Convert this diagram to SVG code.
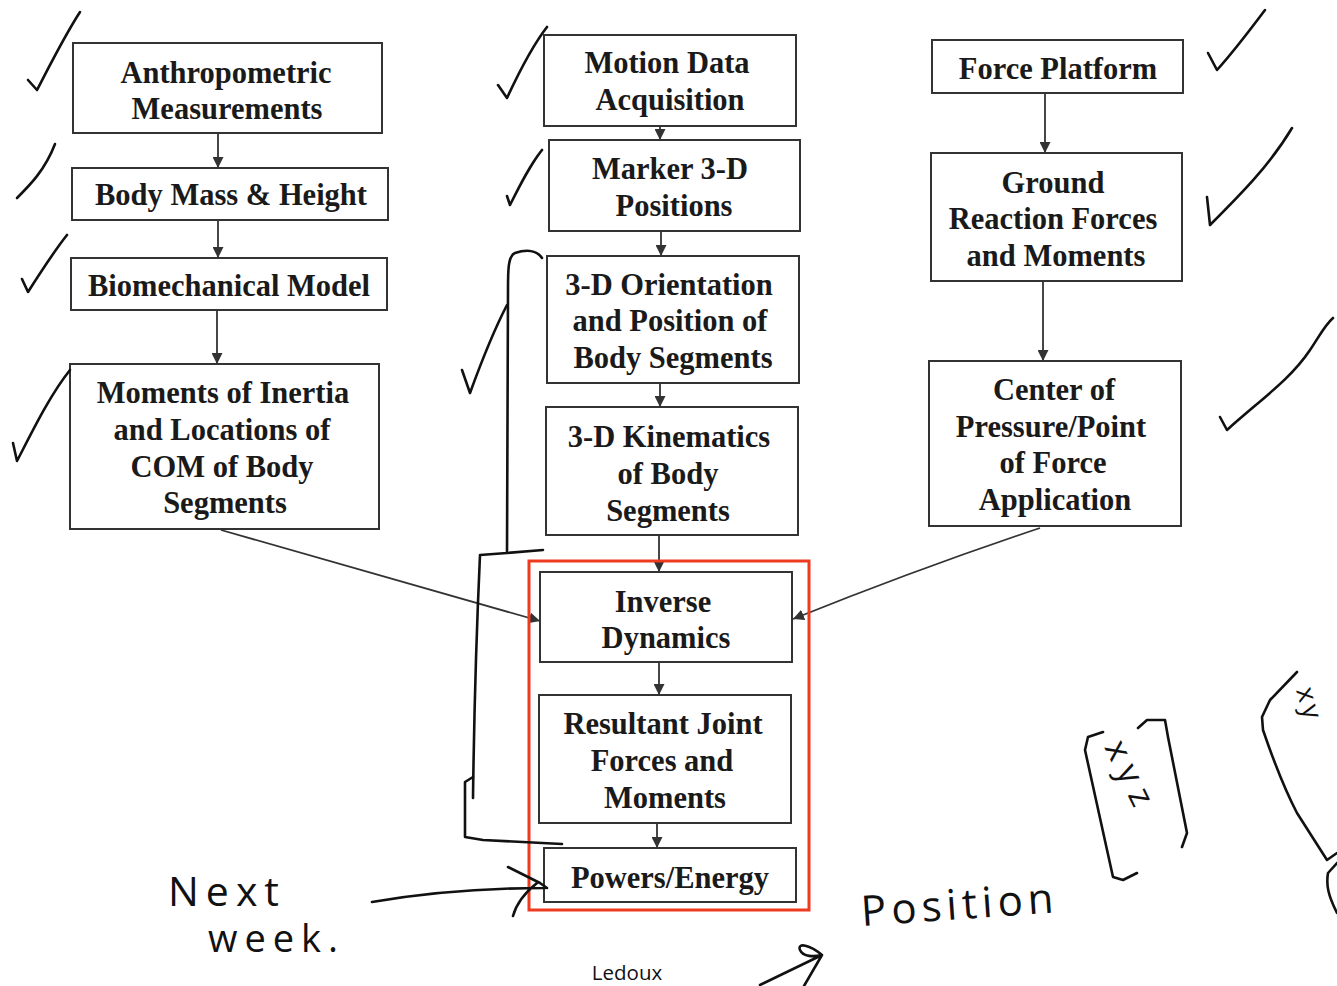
<svg xmlns="http://www.w3.org/2000/svg" width="1337" height="986" viewBox="0 0 1337 986">
<style>
.box{fill:#fff;stroke:#333;stroke-width:2}
.t{font-family:"Liberation Serif","Times New Roman",serif;font-weight:bold;font-size:30.5px;fill:#1a1a1a;text-anchor:middle}
.c{stroke:#333;stroke-width:1.8;fill:none}
.h{stroke:#111;stroke-width:2.6;fill:none;stroke-linecap:round;stroke-linejoin:round}
.hw{font-family:"Open Sans","DejaVu Sans",sans-serif;font-weight:400;fill:#111}
</style>
<defs>
<marker id="ah" viewBox="0 0 10 10" refX="10" refY="5" markerWidth="11" markerHeight="11" markerUnits="userSpaceOnUse" orient="auto">
<path d="M0,0 L10,5 L0,10 z" fill="#333"/>
</marker>
</defs>
<rect width="1337" height="986" fill="#fff"/>

<g id="connectors">
<line class="c" x1="218" y1="133" x2="218" y2="168" marker-end="url(#ah)"/>
<line class="c" x1="218" y1="220" x2="218" y2="258" marker-end="url(#ah)"/>
<line class="c" x1="217" y1="310" x2="217" y2="364" marker-end="url(#ah)"/>
<line class="c" x1="660" y1="126" x2="660" y2="140" marker-end="url(#ah)"/>
<line class="c" x1="661" y1="231" x2="661" y2="256" marker-end="url(#ah)"/>
<line class="c" x1="660" y1="383" x2="660" y2="407" marker-end="url(#ah)"/>
<line class="c" x1="659" y1="535" x2="659" y2="572" marker-end="url(#ah)"/>
<line class="c" x1="659" y1="662" x2="659" y2="695" marker-end="url(#ah)"/>
<line class="c" x1="657" y1="823" x2="657" y2="848" marker-end="url(#ah)"/>
<line class="c" x1="1045" y1="93" x2="1045" y2="153" marker-end="url(#ah)"/>
<line class="c" x1="1043" y1="281" x2="1043" y2="361" marker-end="url(#ah)"/>
<path class="c" d="M221,530 L540,621" marker-end="url(#ah)"/>
<path class="c" d="M1040,528 Q920,568 793,619" marker-end="url(#ah)"/>
</g>

<rect id="highlight" x="529" y="561" width="280" height="349" fill="none" stroke="#ee3b1f" stroke-width="3"/>

<g id="n-anthro"><rect class="box" x="73" y="43" width="309" height="90"/>
<text class="t" x="226" y="83">Anthropometric</text><text class="t" x="227" y="119">Measurements</text></g>
<g id="n-bodymass"><rect class="box" x="72" y="168" width="316" height="52"/>
<text class="t" x="231" y="205">Body Mass &amp; Height</text></g>
<g id="n-biomech"><rect class="box" x="71" y="258" width="316" height="52"/>
<text class="t" x="229" y="296">Biomechanical Model</text></g>
<g id="n-moments"><rect class="box" x="70" y="364" width="309" height="165"/>
<text class="t" x="223" y="403">Moments of Inertia</text><text class="t" x="222" y="440">and Locations of</text>
<text class="t" x="222" y="477">COM of Body</text><text class="t" x="225" y="513">Segments</text></g>

<g id="n-motion"><rect class="box" x="544" y="35" width="252" height="91"/>
<text class="t" x="667" y="73">Motion Data</text><text class="t" x="670" y="110">Acquisition</text></g>
<g id="n-marker"><rect class="box" x="549" y="140" width="251" height="91"/>
<text class="t" x="670" y="179">Marker 3-D</text><text class="t" x="674" y="216">Positions</text></g>
<g id="n-orient"><rect class="box" x="547" y="256" width="252" height="127"/>
<text class="t" x="669" y="295">3-D Orientation</text><text class="t" x="670" y="331">and Position of</text>
<text class="t" x="673" y="368">Body Segments</text></g>
<g id="n-kin"><rect class="box" x="546" y="407" width="252" height="128"/>
<text class="t" x="669" y="447">3-D Kinematics</text><text class="t" x="668" y="484">of Body</text>
<text class="t" x="668" y="521">Segments</text></g>
<g id="n-inverse"><rect class="box" x="540" y="572" width="252" height="90"/>
<text class="t" x="663" y="612">Inverse</text><text class="t" x="666" y="648">Dynamics</text></g>
<g id="n-resultant"><rect class="box" x="539" y="695" width="252" height="128"/>
<text class="t" x="663" y="734">Resultant Joint</text><text class="t" x="662" y="771">Forces and</text>
<text class="t" x="665" y="808">Moments</text></g>
<g id="n-powers"><rect class="box" x="544" y="848" width="252" height="54"/>
<text class="t" x="670" y="888">Powers/Energy</text></g>

<g id="n-force"><rect class="box" x="932" y="40" width="251" height="53"/>
<text class="t" x="1058" y="79">Force Platform</text></g>
<g id="n-grf"><rect class="box" x="931" y="153" width="251" height="128"/>
<text class="t" x="1053" y="193">Ground</text><text class="t" x="1053" y="229">Reaction Forces</text>
<text class="t" x="1056" y="266">and Moments</text></g>
<g id="n-cop"><rect class="box" x="929" y="361" width="252" height="165"/>
<text class="t" x="1054" y="400">Center of</text><text class="t" x="1051" y="437">Pressure/Point</text>
<text class="t" x="1053" y="473">of Force</text><text class="t" x="1055" y="510">Application</text></g>

<g id="annotations">
<path class="h" d="M28,80 L37,90 C50,65 65,35 80,12"/>
<path class="h" d="M17,198 C30,185 45,170 55,144"/>
<path class="h" d="M22,279 L28,292 C42,270 55,250 67,235"/>
<path class="h" d="M13,443 L17,461 C33,430 50,395 70,370"/>
<path class="h" d="M498,85 L507,98 C520,70 533,45 547,27"/>
<path class="h" d="M507,196 L510,205 C520,185 530,165 542,150"/>
<path class="h" d="M462,370 L470,393 C482,360 494,330 507,305"/>
<path class="h" d="M1208,53 L1217,70 C1235,50 1250,30 1265,10"/>
<path class="h" d="M1207,197 L1210,225 C1240,195 1270,165 1292,128"/>
<path class="h" d="M1220,417 L1227,430 C1260,400 1290,380 1310,350 C1320,335 1325,325 1333,318"/>
<path class="h" d="M542,258 C536,249 524,250 515,253 C508,256 508,270 508,290 L507,553 L543,550 M507,553 L480,555 C477,620 474,720 473,798"/>
<path class="h" d="M473,777 L465,782 L465,837 L483,840 L562,844"/>
<path class="h" d="M372,902 C430,892 490,888 545,888 M508,867 L540,883 L547,888 M513,916 C516,905 522,895 537,883"/>
<path class="h" d="M760,985 L822,955 C810,945 797,942 800,950 C803,957 814,957 822,955 L804,986"/>
<path class="h" d="M1103,732 L1088,737 L1085,750 L1113,877 L1123,880 L1137,873"/>
<path class="h" d="M1138,728 L1147,720 L1165,720 L1168,737 L1187,833 L1182,847"/>
<path class="h" d="M1297,672 L1270,700 L1262,717 L1263,730 C1275,765 1285,790 1297,813 L1327,860 L1337,853"/>
<path class="h" d="M1337,863 L1328,873 C1326,885 1328,895 1337,913"/>
<text class="hw" x="168" y="906" font-size="41" letter-spacing="7">Next</text>
<text class="hw" x="208" y="952" font-size="38" letter-spacing="7">week.</text>
<text class="hw" x="862" y="926" font-size="42" letter-spacing="5" transform="rotate(-4 862 926)">Position</text>
<text class="hw" x="1104" y="747" font-size="34" letter-spacing="9" transform="rotate(64 1104 747)">xyz</text>
<text class="hw" x="1296" y="690" font-size="27" letter-spacing="4" transform="rotate(74 1296 690)">xy</text>
</g>
<text x="627" y="980" font-family="'Open Sans','Liberation Sans',sans-serif" font-size="20.5" fill="#111" text-anchor="middle">Ledoux</text>
</svg>
